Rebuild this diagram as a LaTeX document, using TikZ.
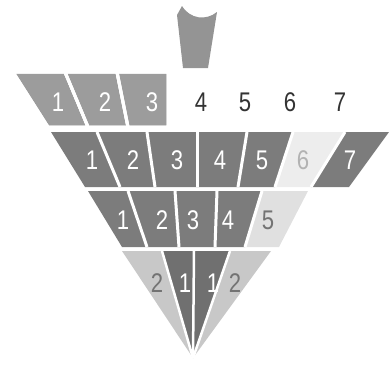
\documentclass[tikz,border=0pt]{standalone}
\usepackage{fontspec}
\setmainfont{Liberation Sans}[FakeStretch=0.82]
\usepackage{tikz}

\definecolor{midgray}{HTML}{9C9C9C}
\definecolor{darkgray}{HTML}{7C7C7C}
\definecolor{deepgray}{HTML}{707070}
\definecolor{palegray}{HTML}{C8C8C8}
\definecolor{ghostgray}{HTML}{EDEDED}
\definecolor{fadegray}{HTML}{E0E0E0}

\begin{document}
\begin{tikzpicture}[x=1pt,y=-1pt,
    cell/.style={draw=white,line width=3pt,line join=miter},
    num/.style={font=\fontsize{27}{27}\selectfont,inner sep=0pt},
    wnum/.style={num,text=white},
    gnum/.style={num,text=black!55},
    bnum/.style={num,text=black!80}]
            \useasboundingbox (0,0) rectangle (389,367);
            % cup at the top
            \fill [midgray!95!black] (177,15) -- (182,6) .. controls (190,19) and (206,21) .. (217,12)
                -- (208,68) -- (183,68) -- cycle;
            % row 1
            \fill [cell,fill=midgray] (13,72) -- (65,72) -- (88,127) -- (48,127) -- cycle;
            \fill [cell,fill=midgray] (65,72) -- (117,72) -- (128,127) -- (88,127) -- cycle;
            \fill [cell,fill=midgray] (117,72) -- (168,72) -- (168,127) -- (128,127) -- cycle;
            \draw [cell] (13,72) -- (65,72) -- (88,127) -- (48,127) -- cycle;
            \draw [cell] (65,72) -- (117,72) -- (128,127) -- (88,127) -- cycle;
            \draw [cell] (117,72) -- (168,72) -- (168,127) -- (128,127) -- cycle;
            % row 2
            \fill [darkgray] (51,132) -- (97,132) -- (120,187) -- (85,187) -- cycle;
            \fill [darkgray] (97,132) -- (147,132) -- (155,187) -- (120,187) -- cycle;
            \fill [darkgray] (147,132) -- (197,132) -- (197,187) -- (155,187) -- cycle;
            \fill [darkgray] (197,132) -- (247,132) -- (238,187) -- (197,187) -- cycle;
            \fill [darkgray] (247,132) -- (293,132) -- (275,187) -- (238,187) -- cycle;
            \fill [ghostgray] (293,132) -- (345,132) -- (311,187) -- (275,187) -- cycle;
            \fill [darkgray] (345,132) -- (389,132) -- (349,187) -- (311,187) -- cycle;
            \draw [cell] (97,132) -- (120,187);
            \draw [cell] (147,132) -- (155,187);
            \draw [cell] (197,132) -- (197,187);
            \draw [cell] (247,132) -- (238,187);
            \draw [cell] (293,132) -- (275,187);
            \draw [cell] (345,132) -- (311,187);
            % row 3
            \fill [darkgray] (88,191) -- (128,191) -- (147,247) -- (122,247) -- cycle;
            \fill [darkgray] (128,191) -- (175,191) -- (179,247) -- (147,247) -- cycle;
            \fill [darkgray] (175,191) -- (217,191) -- (215,247) -- (179,247) -- cycle;
            \fill [darkgray] (217,191) -- (262,191) -- (245,247) -- (215,247) -- cycle;
            \fill [fadegray] (262,191) -- (308,191) -- (279,247) -- (245,247) -- cycle;
            \draw [cell] (128,191) -- (147,247);
            \draw [cell] (175,191) -- (179,247);
            \draw [cell] (217,191) -- (215,247);
            \draw [cell] (262,191) -- (245,247);
            % row 4
            \fill [palegray] (122,251) -- (162,251) -- (193,358) -- cycle;
            \fill [deepgray] (162,251) -- (194,251) -- (193,358) -- cycle;
            \fill [deepgray] (194,251) -- (230,251) -- (193,358) -- cycle;
            \fill [palegray] (230,251) -- (271,251) -- (193,358) -- cycle;
            \draw [cell,line width=2.5pt] (162,251) -- (193,358);
            \draw [cell,line width=2.5pt] (194,251) -- (193,358);
            \draw [cell,line width=2.5pt] (230,251) -- (193,358);
            % labels
            \node [wnum] (top1) at (58,102) {1};
            \node [wnum] (top2) at (105,102) {2};
            \node [wnum] (top3) at (152,102) {3};
            \node [bnum] (top4) at (201,102) {4};
            \node [bnum] (top5) at (245,102) {5};
            \node [bnum] (top6) at (290,102) {6};
            \node [bnum] (top7) at (340,102) {7};
            \node [wnum] (mid1) at (92,160) {1};
            \node [wnum] (mid2) at (133,160) {2};
            \node [wnum] (mid3) at (177,160) {3};
            \node [wnum] (mid4) at (220,160) {4};
            \node [wnum] (mid5) at (262,160) {5};
            \node [gnum,text=black!30] (mid6) at (303,160) {6};
            \node [wnum] (mid7) at (350,160) {7};
            \node [wnum] (low1) at (123,220) {1};
            \node [wnum] (low2) at (162,220) {2};
            \node [wnum] (low3) at (193,220) {3};
            \node [wnum] (low4) at (228,220) {4};
            \node [gnum] (low5) at (268,220) {5};
            \node [gnum] (tip2l) at (157,283) {2};
            \node [wnum] (tip1l) at (185,283) {1};
            \node [wnum] (tip1r) at (213,283) {1};
            \node [gnum] (tip2r) at (235,283) {2};
        \end{tikzpicture}
\end{document}
